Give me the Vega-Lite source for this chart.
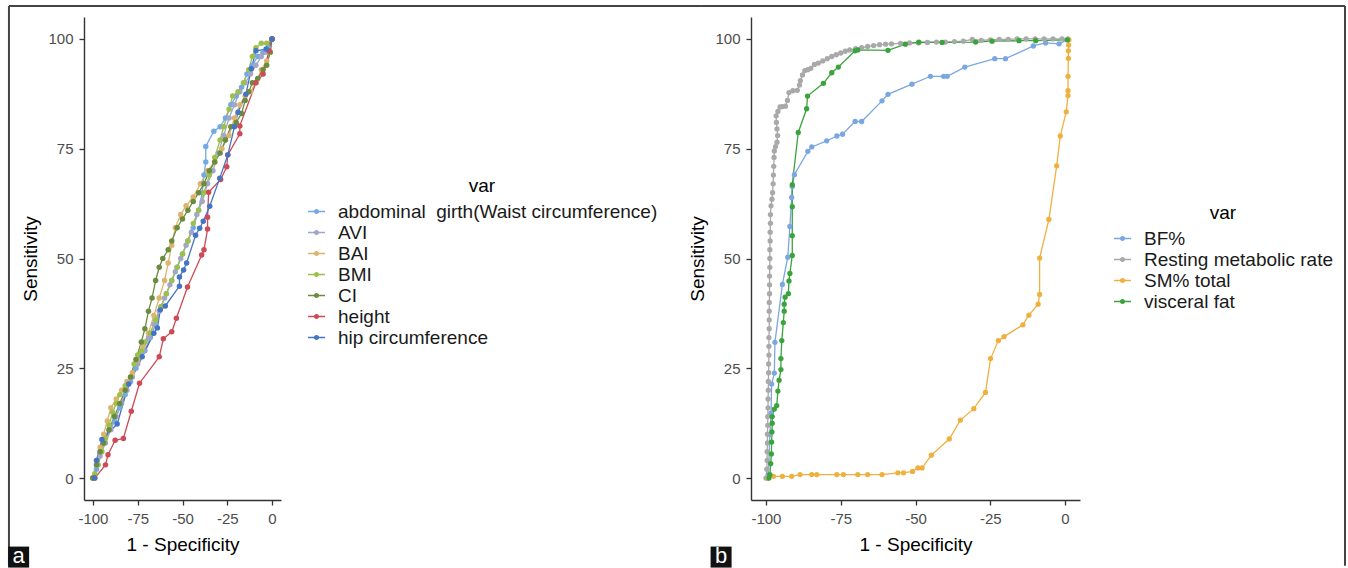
{
  "$schema": "https://vega.github.io/schema/vega-lite/v6.json",
  "padding": {"left": 7, "top": 5, "right": 0, "bottom": 0},
  "background": "white",
  "config": {
    "view": {"stroke": null},
    "font": "Liberation Sans",
    "axis": {
      "grid": false,
      "domainColor": "#333333",
      "domainWidth": 1.4,
      "tickColor": "#333333",
      "tickWidth": 1.3,
      "tickSize": 5,
      "labelColor": "#4d4d4d",
      "labelFontSize": 15,
      "labelFont": "Liberation Sans",
      "labelPadding": 6,
      "labelExpr": "toString(datum.value)",
      "titleFont": "Liberation Sans",
      "titleFontSize": 19,
      "titleFontWeight": "normal",
      "titleColor": "#000000"
    },
    "legend": {
      "titleFont": "Liberation Sans",
      "titleFontSize": 19,
      "titleFontWeight": "normal",
      "titleColor": "#000000",
      "titleAnchor": "middle",
      "titlePadding": 6,
      "labelFont": "Liberation Sans",
      "labelFontSize": 19,
      "labelColor": "#1a1a1a",
      "labelLimit": 600,
      "labelOffset": 12,
      "rowPadding": 1,
      "padding": 0,
      "symbolSize": 289,
      "symbolStrokeWidth": 1.5,
      "symbolType": "M-1,0L1,0M-0.22,0A0.22,0.22,0,1,0,0.22,0A0.22,0.22,0,1,0,-0.22,0M-0.1,0A0.1,0.1,0,1,0,0.1,0A0.1,0.1,0,1,0,-0.1,0"
    }
  },
  "datasets": {
    "left": [
      {"var": "abdominal  girth(Waist circumference)", "x": -100, "y": 0},
      {"var": "abdominal  girth(Waist circumference)", "x": -98, "y": 2},
      {"var": "abdominal  girth(Waist circumference)", "x": -96, "y": 6},
      {"var": "abdominal  girth(Waist circumference)", "x": -94, "y": 8},
      {"var": "abdominal  girth(Waist circumference)", "x": -91, "y": 11},
      {"var": "abdominal  girth(Waist circumference)", "x": -88, "y": 13},
      {"var": "abdominal  girth(Waist circumference)", "x": -85, "y": 16},
      {"var": "abdominal  girth(Waist circumference)", "x": -82, "y": 19},
      {"var": "abdominal  girth(Waist circumference)", "x": -79, "y": 22},
      {"var": "abdominal  girth(Waist circumference)", "x": -76, "y": 25},
      {"var": "abdominal  girth(Waist circumference)", "x": -73, "y": 28},
      {"var": "abdominal  girth(Waist circumference)", "x": -71, "y": 29},
      {"var": "abdominal  girth(Waist circumference)", "x": -68, "y": 32},
      {"var": "abdominal  girth(Waist circumference)", "x": -65, "y": 35},
      {"var": "abdominal  girth(Waist circumference)", "x": -62, "y": 39},
      {"var": "abdominal  girth(Waist circumference)", "x": -59, "y": 42},
      {"var": "abdominal  girth(Waist circumference)", "x": -56, "y": 45},
      {"var": "abdominal  girth(Waist circumference)", "x": -53, "y": 48},
      {"var": "abdominal  girth(Waist circumference)", "x": -50, "y": 51},
      {"var": "abdominal  girth(Waist circumference)", "x": -47, "y": 54},
      {"var": "abdominal  girth(Waist circumference)", "x": -44, "y": 57},
      {"var": "abdominal  girth(Waist circumference)", "x": -41, "y": 61},
      {"var": "abdominal  girth(Waist circumference)", "x": -39, "y": 65},
      {"var": "abdominal  girth(Waist circumference)", "x": -38, "y": 69},
      {"var": "abdominal  girth(Waist circumference)", "x": -37, "y": 72},
      {"var": "abdominal  girth(Waist circumference)", "x": -37, "y": 75.5},
      {"var": "abdominal  girth(Waist circumference)", "x": -32.5, "y": 79},
      {"var": "abdominal  girth(Waist circumference)", "x": -29, "y": 80},
      {"var": "abdominal  girth(Waist circumference)", "x": -26, "y": 82},
      {"var": "abdominal  girth(Waist circumference)", "x": -23, "y": 85},
      {"var": "abdominal  girth(Waist circumference)", "x": -20, "y": 87},
      {"var": "abdominal  girth(Waist circumference)", "x": -17, "y": 89},
      {"var": "abdominal  girth(Waist circumference)", "x": -14, "y": 92},
      {"var": "abdominal  girth(Waist circumference)", "x": -11, "y": 94},
      {"var": "abdominal  girth(Waist circumference)", "x": -8, "y": 96},
      {"var": "abdominal  girth(Waist circumference)", "x": -5, "y": 97},
      {"var": "abdominal  girth(Waist circumference)", "x": -2, "y": 98},
      {"var": "abdominal  girth(Waist circumference)", "x": 0, "y": 100},
      {"var": "AVI", "x": -100, "y": 0},
      {"var": "AVI", "x": -98, "y": 3},
      {"var": "AVI", "x": -96, "y": 5},
      {"var": "AVI", "x": -93, "y": 8},
      {"var": "AVI", "x": -90, "y": 11},
      {"var": "AVI", "x": -87, "y": 14},
      {"var": "AVI", "x": -84, "y": 17},
      {"var": "AVI", "x": -81, "y": 20},
      {"var": "AVI", "x": -78, "y": 23},
      {"var": "AVI", "x": -75, "y": 26},
      {"var": "AVI", "x": -72, "y": 29},
      {"var": "AVI", "x": -69, "y": 32},
      {"var": "AVI", "x": -66, "y": 35},
      {"var": "AVI", "x": -63, "y": 38},
      {"var": "AVI", "x": -60, "y": 41},
      {"var": "AVI", "x": -57, "y": 44},
      {"var": "AVI", "x": -54, "y": 47},
      {"var": "AVI", "x": -51, "y": 50},
      {"var": "AVI", "x": -48, "y": 53},
      {"var": "AVI", "x": -45, "y": 56},
      {"var": "AVI", "x": -42, "y": 60},
      {"var": "AVI", "x": -39, "y": 63},
      {"var": "AVI", "x": -36, "y": 67},
      {"var": "AVI", "x": -33, "y": 70},
      {"var": "AVI", "x": -30, "y": 74},
      {"var": "AVI", "x": -27, "y": 78},
      {"var": "AVI", "x": -24, "y": 82},
      {"var": "AVI", "x": -21, "y": 85},
      {"var": "AVI", "x": -18, "y": 88},
      {"var": "AVI", "x": -15, "y": 90},
      {"var": "AVI", "x": -12, "y": 92},
      {"var": "AVI", "x": -9, "y": 94},
      {"var": "AVI", "x": -6, "y": 96},
      {"var": "AVI", "x": -3, "y": 97},
      {"var": "AVI", "x": 0, "y": 100},
      {"var": "BAI", "x": -100, "y": 0},
      {"var": "BAI", "x": -98, "y": 4},
      {"var": "BAI", "x": -96, "y": 7},
      {"var": "BAI", "x": -94, "y": 10},
      {"var": "BAI", "x": -92, "y": 13},
      {"var": "BAI", "x": -90, "y": 16},
      {"var": "BAI", "x": -87, "y": 18},
      {"var": "BAI", "x": -84, "y": 20},
      {"var": "BAI", "x": -81, "y": 22},
      {"var": "BAI", "x": -78, "y": 24},
      {"var": "BAI", "x": -75, "y": 27},
      {"var": "BAI", "x": -72, "y": 30},
      {"var": "BAI", "x": -69, "y": 33},
      {"var": "BAI", "x": -66, "y": 37},
      {"var": "BAI", "x": -63, "y": 41},
      {"var": "BAI", "x": -60, "y": 45},
      {"var": "BAI", "x": -58, "y": 49},
      {"var": "BAI", "x": -56, "y": 53},
      {"var": "BAI", "x": -54, "y": 57},
      {"var": "BAI", "x": -51, "y": 60},
      {"var": "BAI", "x": -48, "y": 62},
      {"var": "BAI", "x": -44, "y": 64},
      {"var": "BAI", "x": -40, "y": 67},
      {"var": "BAI", "x": -36, "y": 70},
      {"var": "BAI", "x": -32, "y": 72},
      {"var": "BAI", "x": -28, "y": 75},
      {"var": "BAI", "x": -24, "y": 78},
      {"var": "BAI", "x": -21, "y": 82},
      {"var": "BAI", "x": -18, "y": 85},
      {"var": "BAI", "x": -15, "y": 87},
      {"var": "BAI", "x": -12, "y": 88},
      {"var": "BAI", "x": -9, "y": 90},
      {"var": "BAI", "x": -6, "y": 93},
      {"var": "BAI", "x": -3, "y": 95},
      {"var": "BAI", "x": -1, "y": 97},
      {"var": "BAI", "x": 0, "y": 100},
      {"var": "BMI", "x": -100, "y": 0},
      {"var": "BMI", "x": -99, "y": 1},
      {"var": "BMI", "x": -97, "y": 3},
      {"var": "BMI", "x": -95, "y": 6},
      {"var": "BMI", "x": -93, "y": 9},
      {"var": "BMI", "x": -91, "y": 12},
      {"var": "BMI", "x": -89, "y": 15},
      {"var": "BMI", "x": -87, "y": 17},
      {"var": "BMI", "x": -85, "y": 19},
      {"var": "BMI", "x": -82, "y": 21},
      {"var": "BMI", "x": -79, "y": 23},
      {"var": "BMI", "x": -77, "y": 26},
      {"var": "BMI", "x": -75, "y": 28},
      {"var": "BMI", "x": -73, "y": 29},
      {"var": "BMI", "x": -71, "y": 31},
      {"var": "BMI", "x": -68, "y": 33},
      {"var": "BMI", "x": -65, "y": 36},
      {"var": "BMI", "x": -62, "y": 39},
      {"var": "BMI", "x": -59, "y": 42},
      {"var": "BMI", "x": -56, "y": 45},
      {"var": "BMI", "x": -53, "y": 48},
      {"var": "BMI", "x": -50, "y": 51},
      {"var": "BMI", "x": -47, "y": 54},
      {"var": "BMI", "x": -44, "y": 58},
      {"var": "BMI", "x": -41, "y": 61},
      {"var": "BMI", "x": -38, "y": 65},
      {"var": "BMI", "x": -35, "y": 69},
      {"var": "BMI", "x": -32, "y": 73},
      {"var": "BMI", "x": -29, "y": 77},
      {"var": "BMI", "x": -27, "y": 80},
      {"var": "BMI", "x": -24, "y": 84},
      {"var": "BMI", "x": -22, "y": 87},
      {"var": "BMI", "x": -19, "y": 88},
      {"var": "BMI", "x": -16, "y": 90},
      {"var": "BMI", "x": -13, "y": 93},
      {"var": "BMI", "x": -11, "y": 96},
      {"var": "BMI", "x": -9, "y": 98},
      {"var": "BMI", "x": -6, "y": 99},
      {"var": "BMI", "x": -3, "y": 99},
      {"var": "BMI", "x": 0, "y": 100},
      {"var": "CI", "x": -100, "y": 0},
      {"var": "CI", "x": -98, "y": 3},
      {"var": "CI", "x": -96, "y": 6},
      {"var": "CI", "x": -94, "y": 8},
      {"var": "CI", "x": -91, "y": 11},
      {"var": "CI", "x": -88, "y": 14},
      {"var": "CI", "x": -85, "y": 17},
      {"var": "CI", "x": -82, "y": 20},
      {"var": "CI", "x": -79, "y": 23},
      {"var": "CI", "x": -76, "y": 27},
      {"var": "CI", "x": -73, "y": 31},
      {"var": "CI", "x": -71, "y": 34},
      {"var": "CI", "x": -69, "y": 38},
      {"var": "CI", "x": -67, "y": 41},
      {"var": "CI", "x": -65, "y": 45},
      {"var": "CI", "x": -63, "y": 48},
      {"var": "CI", "x": -61, "y": 50},
      {"var": "CI", "x": -58, "y": 52},
      {"var": "CI", "x": -56, "y": 54},
      {"var": "CI", "x": -53, "y": 57},
      {"var": "CI", "x": -50, "y": 59},
      {"var": "CI", "x": -47, "y": 61},
      {"var": "CI", "x": -44, "y": 63},
      {"var": "CI", "x": -41, "y": 65},
      {"var": "CI", "x": -38, "y": 67},
      {"var": "CI", "x": -35, "y": 70},
      {"var": "CI", "x": -32, "y": 72},
      {"var": "CI", "x": -29, "y": 74},
      {"var": "CI", "x": -26, "y": 77},
      {"var": "CI", "x": -23, "y": 80},
      {"var": "CI", "x": -20, "y": 81},
      {"var": "CI", "x": -17, "y": 83},
      {"var": "CI", "x": -15, "y": 86},
      {"var": "CI", "x": -13, "y": 88},
      {"var": "CI", "x": -11, "y": 90},
      {"var": "CI", "x": -8, "y": 91},
      {"var": "CI", "x": -5, "y": 93},
      {"var": "CI", "x": -3, "y": 94},
      {"var": "CI", "x": -1, "y": 97},
      {"var": "CI", "x": 0, "y": 100},
      {"var": "height", "x": -99, "y": 0},
      {"var": "height", "x": -93, "y": 3},
      {"var": "height", "x": -91.6, "y": 5.3},
      {"var": "height", "x": -87.6, "y": 8.6},
      {"var": "height", "x": -83, "y": 9},
      {"var": "height", "x": -78.6, "y": 15.2},
      {"var": "height", "x": -74, "y": 21.6},
      {"var": "height", "x": -63, "y": 27.6},
      {"var": "height", "x": -60.7, "y": 31.7},
      {"var": "height", "x": -56, "y": 33.3},
      {"var": "height", "x": -53.4, "y": 36.4},
      {"var": "height", "x": -47.2, "y": 43.5},
      {"var": "height", "x": -39.3, "y": 50.8},
      {"var": "height", "x": -38, "y": 52},
      {"var": "height", "x": -36, "y": 56.7},
      {"var": "height", "x": -36, "y": 59.4},
      {"var": "height", "x": -35.4, "y": 65.1},
      {"var": "height", "x": -28.7, "y": 68},
      {"var": "height", "x": -25.3, "y": 70.9},
      {"var": "height", "x": -24.7, "y": 73.6},
      {"var": "height", "x": -18, "y": 78.4},
      {"var": "height", "x": -18, "y": 80.2},
      {"var": "height", "x": -9, "y": 90},
      {"var": "height", "x": -5, "y": 92},
      {"var": "height", "x": -1.7, "y": 97.3},
      {"var": "height", "x": 0, "y": 100},
      {"var": "hip circumference", "x": -99, "y": 0},
      {"var": "hip circumference", "x": -98, "y": 4},
      {"var": "hip circumference", "x": -95, "y": 8.8},
      {"var": "hip circumference", "x": -86.5, "y": 12.3},
      {"var": "hip circumference", "x": -80, "y": 21.4},
      {"var": "hip circumference", "x": -72.5, "y": 27.6},
      {"var": "hip circumference", "x": -66, "y": 33},
      {"var": "hip circumference", "x": -64, "y": 34.2},
      {"var": "hip circumference", "x": -62.4, "y": 38.3},
      {"var": "hip circumference", "x": -59.6, "y": 39.2},
      {"var": "hip circumference", "x": -51.7, "y": 43.7},
      {"var": "hip circumference", "x": -51.7, "y": 45.8},
      {"var": "hip circumference", "x": -49.4, "y": 47.4},
      {"var": "hip circumference", "x": -47.7, "y": 49},
      {"var": "hip circumference", "x": -42.7, "y": 55.3},
      {"var": "hip circumference", "x": -40.4, "y": 56.9},
      {"var": "hip circumference", "x": -38.4, "y": 58.5},
      {"var": "hip circumference", "x": -34.8, "y": 61.9},
      {"var": "hip circumference", "x": -29.2, "y": 68.3},
      {"var": "hip circumference", "x": -24.7, "y": 73.6},
      {"var": "hip circumference", "x": -21, "y": 80},
      {"var": "hip circumference", "x": -19, "y": 83.3},
      {"var": "hip circumference", "x": -14.6, "y": 87.4},
      {"var": "hip circumference", "x": -11.6, "y": 93.2},
      {"var": "hip circumference", "x": -9, "y": 97.3},
      {"var": "hip circumference", "x": -3.3, "y": 97.7},
      {"var": "hip circumference", "x": 0, "y": 100}
    ],
    "right": [
      {"var": "BF%", "x": -99.5, "y": 0},
      {"var": "BF%", "x": -99.2, "y": 0.8},
      {"var": "BF%", "x": -98.7, "y": 9.9},
      {"var": "BF%", "x": -98.3, "y": 14.8},
      {"var": "BF%", "x": -98.1, "y": 21.4},
      {"var": "BF%", "x": -97.2, "y": 23.9},
      {"var": "BF%", "x": -97, "y": 30.9},
      {"var": "BF%", "x": -94.5, "y": 44.1},
      {"var": "BF%", "x": -92.7, "y": 50.3},
      {"var": "BF%", "x": -92, "y": 57.3},
      {"var": "BF%", "x": -91.4, "y": 63.9},
      {"var": "BF%", "x": -91.2, "y": 66.4},
      {"var": "BF%", "x": -90.5, "y": 69.1},
      {"var": "BF%", "x": -86, "y": 74.4},
      {"var": "BF%", "x": -84.7, "y": 75.4},
      {"var": "BF%", "x": -79.7, "y": 76.8},
      {"var": "BF%", "x": -76.3, "y": 77.9},
      {"var": "BF%", "x": -74.4, "y": 78.3},
      {"var": "BF%", "x": -70.2, "y": 81.2},
      {"var": "BF%", "x": -68, "y": 81.2},
      {"var": "BF%", "x": -61.2, "y": 85.9},
      {"var": "BF%", "x": -59.2, "y": 87.4},
      {"var": "BF%", "x": -51.2, "y": 89.7},
      {"var": "BF%", "x": -45, "y": 91.5},
      {"var": "BF%", "x": -40.6, "y": 91.5},
      {"var": "BF%", "x": -39.4, "y": 91.5},
      {"var": "BF%", "x": -33.5, "y": 93.6},
      {"var": "BF%", "x": -23.5, "y": 95.5},
      {"var": "BF%", "x": -19.9, "y": 95.5},
      {"var": "BF%", "x": -10.6, "y": 98.4},
      {"var": "BF%", "x": -6.5, "y": 99.1},
      {"var": "BF%", "x": -2, "y": 98.9},
      {"var": "BF%", "x": 0.8, "y": 99.8},
      {"var": "Resting metabolic rate", "x": -100, "y": 0},
      {"var": "Resting metabolic rate", "x": -99.7, "y": 2},
      {"var": "Resting metabolic rate", "x": -99.6, "y": 4},
      {"var": "Resting metabolic rate", "x": -99.6, "y": 6},
      {"var": "Resting metabolic rate", "x": -99.5, "y": 8},
      {"var": "Resting metabolic rate", "x": -99.5, "y": 10},
      {"var": "Resting metabolic rate", "x": -99.4, "y": 12},
      {"var": "Resting metabolic rate", "x": -99.4, "y": 14},
      {"var": "Resting metabolic rate", "x": -99.3, "y": 16},
      {"var": "Resting metabolic rate", "x": -99.3, "y": 18},
      {"var": "Resting metabolic rate", "x": -99.2, "y": 20},
      {"var": "Resting metabolic rate", "x": -99.2, "y": 22},
      {"var": "Resting metabolic rate", "x": -99.1, "y": 24},
      {"var": "Resting metabolic rate", "x": -99.1, "y": 26},
      {"var": "Resting metabolic rate", "x": -99, "y": 28},
      {"var": "Resting metabolic rate", "x": -99, "y": 30},
      {"var": "Resting metabolic rate", "x": -99, "y": 32},
      {"var": "Resting metabolic rate", "x": -98.9, "y": 34},
      {"var": "Resting metabolic rate", "x": -98.9, "y": 36},
      {"var": "Resting metabolic rate", "x": -98.9, "y": 38},
      {"var": "Resting metabolic rate", "x": -98.9, "y": 40},
      {"var": "Resting metabolic rate", "x": -98.8, "y": 42},
      {"var": "Resting metabolic rate", "x": -98.8, "y": 44},
      {"var": "Resting metabolic rate", "x": -98.8, "y": 46},
      {"var": "Resting metabolic rate", "x": -98.7, "y": 48},
      {"var": "Resting metabolic rate", "x": -98.7, "y": 50},
      {"var": "Resting metabolic rate", "x": -98.7, "y": 52},
      {"var": "Resting metabolic rate", "x": -98.6, "y": 54},
      {"var": "Resting metabolic rate", "x": -98.6, "y": 56},
      {"var": "Resting metabolic rate", "x": -98.5, "y": 58},
      {"var": "Resting metabolic rate", "x": -98.5, "y": 60},
      {"var": "Resting metabolic rate", "x": -98.3, "y": 62},
      {"var": "Resting metabolic rate", "x": -98, "y": 63.5},
      {"var": "Resting metabolic rate", "x": -97.8, "y": 65},
      {"var": "Resting metabolic rate", "x": -97.6, "y": 67},
      {"var": "Resting metabolic rate", "x": -97.5, "y": 69},
      {"var": "Resting metabolic rate", "x": -97.4, "y": 71},
      {"var": "Resting metabolic rate", "x": -97.3, "y": 73},
      {"var": "Resting metabolic rate", "x": -97.2, "y": 74.5},
      {"var": "Resting metabolic rate", "x": -96.8, "y": 75.5},
      {"var": "Resting metabolic rate", "x": -96.3, "y": 76.5},
      {"var": "Resting metabolic rate", "x": -96.1, "y": 78},
      {"var": "Resting metabolic rate", "x": -96.3, "y": 79.5},
      {"var": "Resting metabolic rate", "x": -96.5, "y": 81},
      {"var": "Resting metabolic rate", "x": -96.6, "y": 82.5},
      {"var": "Resting metabolic rate", "x": -96, "y": 83.5},
      {"var": "Resting metabolic rate", "x": -95.3, "y": 84.5},
      {"var": "Resting metabolic rate", "x": -94.5, "y": 84.6},
      {"var": "Resting metabolic rate", "x": -93.5, "y": 84.7},
      {"var": "Resting metabolic rate", "x": -92.8, "y": 86},
      {"var": "Resting metabolic rate", "x": -92.3, "y": 87.8},
      {"var": "Resting metabolic rate", "x": -91, "y": 88.2},
      {"var": "Resting metabolic rate", "x": -89.5, "y": 88.3},
      {"var": "Resting metabolic rate", "x": -88.8, "y": 89.5},
      {"var": "Resting metabolic rate", "x": -88.5, "y": 90.5},
      {"var": "Resting metabolic rate", "x": -87.8, "y": 91.8},
      {"var": "Resting metabolic rate", "x": -87, "y": 92.8},
      {"var": "Resting metabolic rate", "x": -86, "y": 93},
      {"var": "Resting metabolic rate", "x": -85, "y": 93.3},
      {"var": "Resting metabolic rate", "x": -83.8, "y": 94.2},
      {"var": "Resting metabolic rate", "x": -82.5, "y": 94.5},
      {"var": "Resting metabolic rate", "x": -81, "y": 95},
      {"var": "Resting metabolic rate", "x": -79.5, "y": 95.5},
      {"var": "Resting metabolic rate", "x": -78, "y": 96},
      {"var": "Resting metabolic rate", "x": -76.5, "y": 96.4},
      {"var": "Resting metabolic rate", "x": -75, "y": 96.8},
      {"var": "Resting metabolic rate", "x": -73.5, "y": 97.2},
      {"var": "Resting metabolic rate", "x": -72, "y": 97.5},
      {"var": "Resting metabolic rate", "x": -70, "y": 97.8},
      {"var": "Resting metabolic rate", "x": -68, "y": 98},
      {"var": "Resting metabolic rate", "x": -66, "y": 98.3},
      {"var": "Resting metabolic rate", "x": -64, "y": 98.5},
      {"var": "Resting metabolic rate", "x": -62, "y": 98.7},
      {"var": "Resting metabolic rate", "x": -60, "y": 98.8},
      {"var": "Resting metabolic rate", "x": -58, "y": 98.9},
      {"var": "Resting metabolic rate", "x": -55, "y": 99},
      {"var": "Resting metabolic rate", "x": -52, "y": 99.1},
      {"var": "Resting metabolic rate", "x": -49, "y": 99.1},
      {"var": "Resting metabolic rate", "x": -46, "y": 99.2},
      {"var": "Resting metabolic rate", "x": -43, "y": 99.3},
      {"var": "Resting metabolic rate", "x": -40, "y": 99.3},
      {"var": "Resting metabolic rate", "x": -37, "y": 99.4},
      {"var": "Resting metabolic rate", "x": -34, "y": 99.5},
      {"var": "Resting metabolic rate", "x": -31, "y": 99.9},
      {"var": "Resting metabolic rate", "x": -28, "y": 99.7},
      {"var": "Resting metabolic rate", "x": -25, "y": 99.8},
      {"var": "Resting metabolic rate", "x": -22, "y": 99.9},
      {"var": "Resting metabolic rate", "x": -19, "y": 99.9},
      {"var": "Resting metabolic rate", "x": -16, "y": 100},
      {"var": "Resting metabolic rate", "x": -13, "y": 100},
      {"var": "Resting metabolic rate", "x": -10, "y": 100},
      {"var": "Resting metabolic rate", "x": -7, "y": 100},
      {"var": "Resting metabolic rate", "x": -4, "y": 100},
      {"var": "Resting metabolic rate", "x": -1, "y": 100},
      {"var": "Resting metabolic rate", "x": 1, "y": 100},
      {"var": "SM% total", "x": -99.2, "y": 0},
      {"var": "SM% total", "x": -97.5, "y": 0.4},
      {"var": "SM% total", "x": -94.5, "y": 0.4},
      {"var": "SM% total", "x": -91.4, "y": 0.4},
      {"var": "SM% total", "x": -88.6, "y": 0.8},
      {"var": "SM% total", "x": -84.7, "y": 0.8},
      {"var": "SM% total", "x": -83, "y": 0.8},
      {"var": "SM% total", "x": -76.3, "y": 0.8},
      {"var": "SM% total", "x": -74.1, "y": 0.8},
      {"var": "SM% total", "x": -69.3, "y": 0.8},
      {"var": "SM% total", "x": -66, "y": 0.8},
      {"var": "SM% total", "x": -61.2, "y": 0.8},
      {"var": "SM% total", "x": -55.9, "y": 1.2},
      {"var": "SM% total", "x": -54, "y": 1.2},
      {"var": "SM% total", "x": -51, "y": 1.5},
      {"var": "SM% total", "x": -49.2, "y": 2.3},
      {"var": "SM% total", "x": -47.8, "y": 2.3},
      {"var": "SM% total", "x": -44.7, "y": 5.2},
      {"var": "SM% total", "x": -38.7, "y": 8.9},
      {"var": "SM% total", "x": -35, "y": 13.2},
      {"var": "SM% total", "x": -30.5, "y": 15.8},
      {"var": "SM% total", "x": -26.6, "y": 19.5},
      {"var": "SM% total", "x": -24.9, "y": 27.2},
      {"var": "SM% total", "x": -22.3, "y": 31.3},
      {"var": "SM% total", "x": -20.4, "y": 32.2},
      {"var": "SM% total", "x": -14.1, "y": 34.9},
      {"var": "SM% total", "x": -12.1, "y": 37.1},
      {"var": "SM% total", "x": -9, "y": 39.6},
      {"var": "SM% total", "x": -8.5, "y": 41.8},
      {"var": "SM% total", "x": -8.5, "y": 50.1},
      {"var": "SM% total", "x": -5.4, "y": 58.9},
      {"var": "SM% total", "x": -2.8, "y": 71.1},
      {"var": "SM% total", "x": -1.6, "y": 77.9},
      {"var": "SM% total", "x": 0.4, "y": 83.4},
      {"var": "SM% total", "x": 1, "y": 87.1},
      {"var": "SM% total", "x": 1, "y": 88.2},
      {"var": "SM% total", "x": 1, "y": 91.5},
      {"var": "SM% total", "x": 1.1, "y": 95.6},
      {"var": "SM% total", "x": 1.1, "y": 97.3},
      {"var": "SM% total", "x": 1.2, "y": 98.6},
      {"var": "SM% total", "x": 1.3, "y": 99.8},
      {"var": "visceral fat", "x": -99, "y": 0},
      {"var": "visceral fat", "x": -98.7, "y": 0.8},
      {"var": "visceral fat", "x": -98.4, "y": 3.3},
      {"var": "visceral fat", "x": -98.2, "y": 5.5},
      {"var": "visceral fat", "x": -98.1, "y": 8.2},
      {"var": "visceral fat", "x": -98, "y": 10.5},
      {"var": "visceral fat", "x": -97.9, "y": 12.5},
      {"var": "visceral fat", "x": -97.9, "y": 14},
      {"var": "visceral fat", "x": -97.2, "y": 15.7},
      {"var": "visceral fat", "x": -96.4, "y": 16.5},
      {"var": "visceral fat", "x": -96, "y": 19.8},
      {"var": "visceral fat", "x": -95.6, "y": 22.3},
      {"var": "visceral fat", "x": -95, "y": 24.7},
      {"var": "visceral fat", "x": -95, "y": 27.2},
      {"var": "visceral fat", "x": -94.7, "y": 31.3},
      {"var": "visceral fat", "x": -94.2, "y": 35.4},
      {"var": "visceral fat", "x": -93.9, "y": 38},
      {"var": "visceral fat", "x": -93.9, "y": 39.6},
      {"var": "visceral fat", "x": -93.6, "y": 41.2},
      {"var": "visceral fat", "x": -92.5, "y": 42},
      {"var": "visceral fat", "x": -92.3, "y": 44.9},
      {"var": "visceral fat", "x": -92, "y": 46.6},
      {"var": "visceral fat", "x": -91.2, "y": 50.7},
      {"var": "visceral fat", "x": -91.2, "y": 55.2},
      {"var": "visceral fat", "x": -91.2, "y": 61.8},
      {"var": "visceral fat", "x": -91.2, "y": 66.8},
      {"var": "visceral fat", "x": -89.2, "y": 78.7},
      {"var": "visceral fat", "x": -86.4, "y": 84.1},
      {"var": "visceral fat", "x": -86.1, "y": 87},
      {"var": "visceral fat", "x": -80.8, "y": 89.9},
      {"var": "visceral fat", "x": -78, "y": 92.3},
      {"var": "visceral fat", "x": -75.8, "y": 93.6},
      {"var": "visceral fat", "x": -70.2, "y": 97.3},
      {"var": "visceral fat", "x": -69.3, "y": 97.5},
      {"var": "visceral fat", "x": -59.2, "y": 97.4},
      {"var": "visceral fat", "x": -53.4, "y": 98.8},
      {"var": "visceral fat", "x": -48.9, "y": 99.3},
      {"var": "visceral fat", "x": -41.1, "y": 99.2},
      {"var": "visceral fat", "x": -29.9, "y": 99.3},
      {"var": "visceral fat", "x": -24.4, "y": 99.5},
      {"var": "visceral fat", "x": -15.4, "y": 99.6},
      {"var": "visceral fat", "x": -9.8, "y": 99.6},
      {"var": "visceral fat", "x": 0.8, "y": 99.8}
    ]
  },
  "hconcat": [
    {
      "width": 197,
      "height": 483,
      "layer": [
        {
          "data": {"name": "left"},
          "mark": {"type": "line", "strokeWidth": 1.3, "point": {"filled": true, "size": 30}},
          "encoding": {
            "x": {"field": "x", "type": "quantitative", "scale": {"domain": [-105, 5], "nice": false, "zero": false}, "axis": {"values": [-100, -75, -50, -25, 0], "title": "1 - Specificity", "titlePadding": 9}},
            "y": {"field": "y", "type": "quantitative", "scale": {"domain": [-5, 105], "nice": false, "zero": false}, "axis": {"values": [0, 25, 50, 75, 100], "title": "Sensitivity", "titlePadding": 7}},
            "color": {"field": "var", "type": "nominal",
              "scale": {"domain": ["abdominal  girth(Waist circumference)", "AVI", "BAI", "BMI", "CI", "height", "hip circumference"],
                        "range": ["#74a9e3", "#a3a6c8", "#dcb46e", "#9dc04c", "#6b8c3e", "#cc4b56", "#4474c4"]},
              "legend": {"title": "var", "orient": "none", "legendX": 223, "legendY": 160, "labelExpr": "replace(datum.label, '  ', '\u00a0 ')"}},
            "order": {"value": null}
          }
        },
        {
          "data": {"values": [{}]},
          "mark": {"type": "rule", "color": "#444444", "strokeWidth": 2},
          "encoding": {"x": {"datum": -146.9}, "x2": {"datum": 239.5}, "y": {"datum": 107.5}}
        },
        {
          "data": {"values": [{}]},
          "mark": {"type": "rule", "color": "#444444", "strokeWidth": 2},
          "encoding": {"x": {"datum": -146.9}, "y": {"datum": 107.5}, "y2": {"datum": -20}}
        },
        {
          "data": {"values": [{}]},
          "mark": {"type": "point", "shape": "square", "filled": true, "color": "#111111", "opacity": 1, "size": 441},
          "encoding": {"x": {"datum": -141.5}, "y": {"datum": -18}}
        },
        {
          "data": {"values": [{}]},
          "mark": {"type": "text", "text": "a", "color": "white", "fontSize": 22, "align": "center", "baseline": "middle", "dy": -1},
          "encoding": {"x": {"datum": -141.5}, "y": {"datum": -18}}
        }
      ]
    },
    {
      "width": 329,
      "height": 483,
      "layer": [
        {
          "data": {"name": "right"},
          "mark": {"type": "line", "strokeWidth": 1.3, "point": {"filled": true, "size": 28}},
          "encoding": {
            "x": {"field": "x", "type": "quantitative", "scale": {"domain": [-105, 5], "nice": false, "zero": false}, "axis": {"values": [-100, -75, -50, -25, 0], "title": "1 - Specificity", "titlePadding": 9}},
            "y": {"field": "y", "type": "quantitative", "scale": {"domain": [-5, 105], "nice": false, "zero": false}, "axis": {"values": [0, 25, 50, 75, 100], "title": "Sensitivity", "titlePadding": 7}},
            "color": {"field": "var", "type": "nominal",
              "scale": {"domain": ["BF%", "Resting metabolic rate", "SM% total", "visceral fat"],
                        "range": ["#7ba7e1", "#a9a9a9", "#eeb140", "#3ba33d"]},
              "legend": {"title": "var", "orient": "none", "legendX": 362, "legendY": 187}},
            "order": {"value": null}
          }
        },
        {
          "data": {"values": [{}]},
          "mark": {"type": "rule", "color": "#444444", "strokeWidth": 2},
          "encoding": {"x": {"datum": -121.7}, "x2": {"datum": 93.6}, "y": {"datum": 107.5}}
        },
        {
          "data": {"values": [{}]},
          "mark": {"type": "rule", "color": "#444444", "strokeWidth": 2},
          "encoding": {"x": {"datum": 93.6}, "y": {"datum": 107.5}, "y2": {"datum": -20}}
        },
        {
          "data": {"values": [{}]},
          "mark": {"type": "point", "shape": "square", "filled": true, "color": "#111111", "opacity": 1, "size": 441},
          "encoding": {"x": {"datum": -115}, "y": {"datum": -18}}
        },
        {
          "data": {"values": [{}]},
          "mark": {"type": "text", "text": "b", "color": "white", "fontSize": 22, "align": "center", "baseline": "middle", "dy": -1},
          "encoding": {"x": {"datum": -115}, "y": {"datum": -18}}
        }
      ],
      "resolve": {"scale": {"color": "independent"}}
    }
  ],
  "spacing": 470,
  "bounds": "flush",
  "resolve": {"scale": {"color": "independent", "x": "independent", "y": "independent"}}
}
